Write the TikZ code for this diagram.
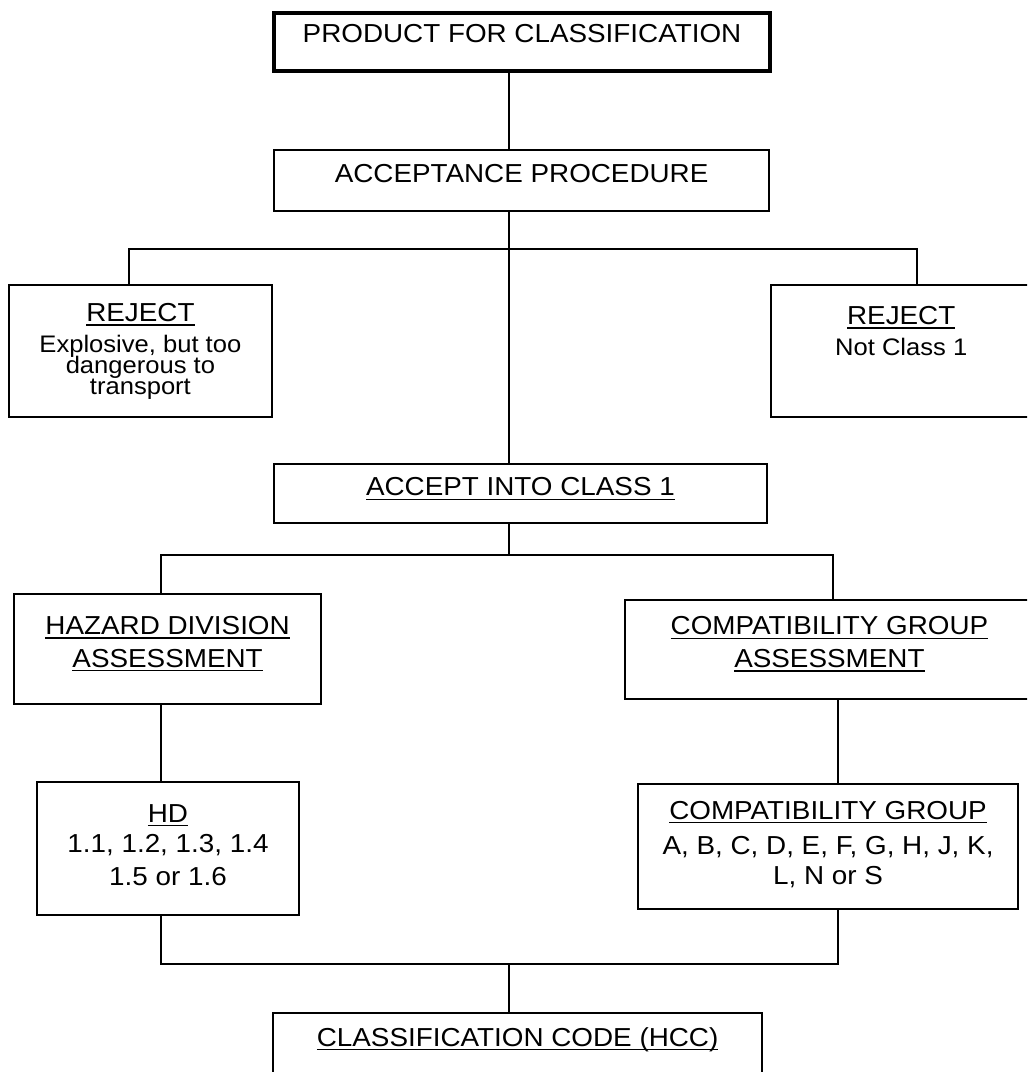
\documentclass[tikz,border=0pt]{standalone}
\usepackage{fontspec}
\setmainfont{Liberation Sans}[FakeStretch=1.07]
\usepackage{tikz}
\usetikzlibrary{positioning}

\newsavebox{\ulbox}
\newcommand{\uln}[1]{\sbox{\ulbox}{#1}\rlap{\rule[-2.8pt]{\wd\ulbox}{0.8pt}}\usebox{\ulbox}}
\newcommand{\bigtxt}{\fontsize{18.5}{23.4}\selectfont}
\newcommand{\smalltxt}{\fontsize{17}{14}\selectfont}

\tikzset{
	box/.style={shape=rectangle,draw=black,line width=1.1pt,inner sep=0pt},
	boxtext/.style={align=center,inner sep=0pt,font=\bigtxt},
	link/.style={line width=1.1pt},
}

\begin{document}
\begin{tikzpicture}
	\useasboundingbox (0,0) rectangle (25.675,26.8);
	\clip (0,0) rectangle (25.675,26.8);

	\node[box,line width=3pt,minimum width=12.4cm,minimum height=1.45cm] (prod) at (13.05,25.74) {};
	\node[box,minimum width=12.375cm,minimum height=1.525cm] (acc)    at (13.04,22.29) {};
	\node[box,minimum width=6.575cm,minimum height=3.3cm]    (rejA)   at (3.51,18.025) {};
	\node[box,minimum width=6.725cm,minimum height=3.3cm]    (rejB)   at (22.64,18.025) {};
	\node[box,minimum width=12.325cm,minimum height=1.475cm] (accept) at (13.01,14.46) {};
	\node[box,minimum width=7.675cm,minimum height=2.75cm]   (hda)    at (4.19,10.575) {};
	\node[box,minimum width=10.375cm,minimum height=2.475cm] (cga)    at (20.81,10.56) {};
	\node[box,minimum width=6.55cm,minimum height=3.325cm]   (hd)     at (4.2,5.59) {};
	\node[box,minimum width=9.5cm,minimum height=3.125cm]    (cg)     at (20.7,5.64) {};
	\node[box,minimum width=12.225cm,minimum height=2.175cm] (hcc)    at (12.94,0.39) {};

	\node[boxtext,below=0.325cm of prod.north]  (prodtxt)   {PRODUCT FOR CLASSIFICATION};
	\node[boxtext,below=0.375cm of acc.north]   (acctxt)    {ACCEPTANCE PROCEDURE};
	\node[boxtext,below=0.475cm of rejA.north]  (rejAtxt)   {\uln{REJECT}\\[-1.4pt]
		{\smalltxt Explosive, but too}\\[-8.4pt] {\smalltxt dangerous to}\\[-8.4pt] {\smalltxt transport}};
	\node[boxtext,below=0.55cm of rejB.north,xshift=-0.11cm] (rejBtxt) {\uln{REJECT}\\[-1.4pt] {\smalltxt Not Class 1}};
	\node[boxtext,below=0.35cm of accept.north] (accepttxt) {\uln{ACCEPT INTO CLASS 1}};
	\node[boxtext,below=0.575cm of hda.north]   (hdatxt)    {\uln{HAZARD DIVISION}\\\uln{ASSESSMENT}};
	\node[boxtext,below=0.425cm of cga.north,xshift=-0.075cm] (cgatxt) {\uln{COMPATIBILITY GROUP}\\\uln{ASSESSMENT}};
	\node[boxtext,below=0.57cm of hd.north]     (hdtxt)     {\uln{HD}\\[-2.1pt] 1.1, 1.2, 1.3, 1.4\\[0.7pt] 1.5 or 1.6};
	\node[boxtext,below=0.45cm of cg.north]     (cgtxt)     {\uln{COMPATIBILITY GROUP}\\[1.4pt]
		A, B, C, D, E, F, G, H, J, K,\\[-2.1pt] L, N or S};
	\node[boxtext,below=0.375cm of hcc.north]   (hcctxt)    {\uln{CLASSIFICATION CODE (HCC)}};

	\coordinate (sp) at (12.725,0);
	\coordinate (jA) at (12.725,20.575);
	\coordinate (jB) at (12.725,12.925);
	\coordinate (jC) at (12.725,2.7);
	\coordinate (dA) at (3.225,0);
	\coordinate (dB) at (22.925,0);
	\coordinate (dC) at (4.025,0);
	\coordinate (dD) at (20.825,0);
	\coordinate (dE) at (20.95,0);

	\draw[link] (prod.south -| sp) -- (acc.north -| sp);
	\draw[link] (acc.south -| sp) -- (accept.north -| sp);
	\draw[link] (rejA.north -| dA) |- (jA) -| (rejB.north -| dB);
	\draw[link] (accept.south -| sp) -- (jB);
	\draw[link] (hda.north -| dC) |- (jB) -| (cga.north -| dD);
	\draw[link] (hda.south -| dC) -- (hd.north -| dC);
	\draw[link] (cga.south -| dE) -- (cg.north -| dE);
	\draw[link] (hd.south -| dC) |- (jC) -| (cg.south -| dE);
	\draw[link] (jC) -- (hcc.north -| sp);
\end{tikzpicture}
\end{document}
